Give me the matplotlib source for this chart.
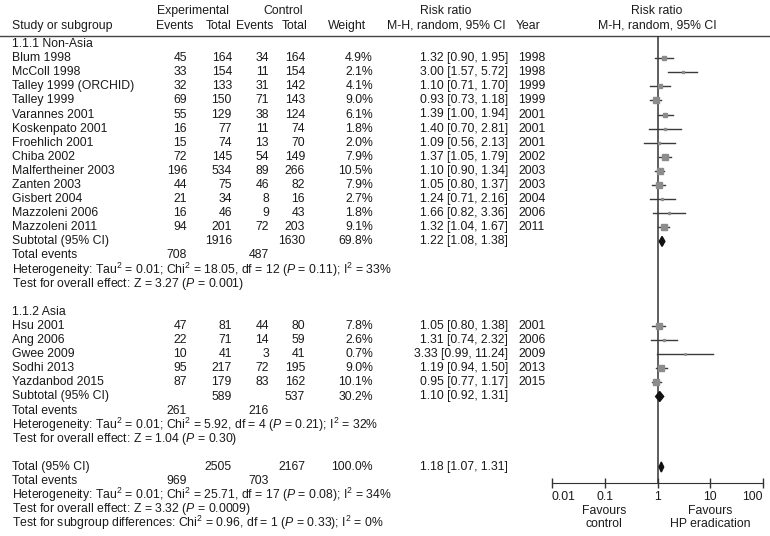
import numpy as np
import matplotlib
matplotlib.use('Agg')
import matplotlib.pyplot as plt

plt.rcParams['font.family'] = ['Liberation Sans', 'DejaVu Sans']
plt.rcParams['mathtext.fontset'] = 'custom'
plt.rcParams['mathtext.rm'] = 'Liberation Sans'
plt.rcParams['mathtext.it'] = 'Liberation Sans:italic'

# ---- data: 1.1.1 Non-Asia ----
g1_study = ['Blum 1998', 'McColl 1998', 'Talley 1999 (ORCHID)', 'Talley 1999', 'Varannes 2001',
            'Koskenpato 2001', 'Froehlich 2001', 'Chiba 2002', 'Malfertheiner 2003', 'Zanten 2003',
            'Gisbert 2004', 'Mazzoleni 2006', 'Mazzoleni 2011']
g1_exp_ev = [45, 33, 32, 69, 55, 16, 15, 72, 196, 44, 21, 16, 94]
g1_exp_tot = [164, 154, 133, 150, 129, 77, 74, 145, 534, 75, 34, 46, 201]
g1_ctl_ev = [34, 11, 31, 71, 38, 11, 13, 54, 89, 46, 8, 9, 72]
g1_ctl_tot = [164, 154, 142, 143, 124, 74, 70, 149, 266, 82, 16, 43, 203]
g1_weight = [4.9, 2.1, 4.1, 9.0, 6.1, 1.8, 2.0, 7.9, 10.5, 7.9, 2.7, 1.8, 9.1]
g1_rr = [1.32, 3.00, 1.10, 0.93, 1.39, 1.40, 1.09, 1.37, 1.10, 1.05, 1.24, 1.66, 1.32]
g1_lo = [0.90, 1.57, 0.71, 0.73, 1.00, 0.70, 0.56, 1.05, 0.90, 0.80, 0.71, 0.82, 1.04]
g1_hi = [1.95, 5.72, 1.70, 1.18, 1.94, 2.81, 2.13, 1.79, 1.34, 1.37, 2.16, 3.36, 1.67]
g1_year = [1998, 1998, 1999, 1999, 2001, 2001, 2001, 2002, 2003, 2003, 2004, 2006, 2011]

# ---- data: 1.1.2 Asia ----
g2_study = ['Hsu 2001', 'Ang 2006', 'Gwee 2009', 'Sodhi 2013', 'Yazdanbod 2015']
g2_exp_ev = [47, 22, 10, 95, 87]
g2_exp_tot = [81, 71, 41, 217, 179]
g2_ctl_ev = [44, 14, 3, 72, 83]
g2_ctl_tot = [80, 59, 41, 195, 162]
g2_weight = [7.8, 2.6, 0.7, 9.0, 10.1]
g2_rr = [1.05, 1.31, 3.33, 1.19, 0.95]
g2_lo = [0.80, 0.74, 0.99, 0.94, 0.77]
g2_hi = [1.38, 2.32, 11.24, 1.50, 1.17]
g2_year = [2001, 2006, 2009, 2013, 2015]

# subtotals / totals: [exp total, ctl total, weight, rr, lo, hi, exp events, ctl events]
sub1 = [1916, 1630, 69.8, 1.22, 1.08, 1.38, 708, 487]
sub2 = [589, 537, 30.2, 1.10, 0.92, 1.31, 261, 216]
overall = [2505, 2167, 100.0, 1.18, 1.07, 1.31, 969, 703]

het1 = 'Heterogeneity: Tau$^2$ = 0.01; Chi$^2$ = 18.05, df = 12 ($P$ = 0.11); I$^2$ = 33%'
eff1 = 'Test for overall effect: Z = 3.27 ($P$ = 0.001)'
het2 = 'Heterogeneity: Tau$^2$ = 0.01; Chi$^2$ = 5.92, df = 4 ($P$ = 0.21); I$^2$ = 32%'
eff2 = 'Test for overall effect: Z = 1.04 ($P$ = 0.30)'
het_all = 'Heterogeneity: Tau$^2$ = 0.01; Chi$^2$ = 25.71, df = 17 ($P$ = 0.08); I$^2$ = 34%'
eff_all = 'Test for overall effect: Z = 3.32 ($P$ = 0.0009)'
sub_diff = 'Test for subgroup differences: Chi$^2$ = 0.96, df = 1 ($P$ = 0.33); I$^2$ = 0%'

ticks = [0.01, 0.1, 1, 10, 100]
tick_labels = ['0.01', '0.1', '1', '10', '100']

W, H = 770, 536
fig = plt.figure(figsize=(W / 100, H / 100), dpi=100)
tx = fig.add_axes([0, 0, 1, 1])
tx.set_xlim(0, W)
tx.set_ylim(H, 0)
tx.axis('off')

FS = 8.8
TC = '#1a1a1a'
y0, step = 44, 14.1
row = lambda i: y0 + i * step

col_x = {'study': 12, 'ee': 187, 'et': 232, 'ce': 269, 'ct': 305, 'w': 373, 'rr': 508, 'yr': 518}


def txt(x, y, s, ha='left'):
    tx.text(x, y, s, ha=ha, va='center', fontsize=FS, color=TC)


# headers
txt(193, 11, 'Experimental', 'center')
txt(283, 11, 'Control', 'center')
txt(446, 11, 'Risk ratio', 'center')
txt(657, 11, 'Risk ratio', 'center')
txt(12, 26, 'Study or subgroup')
txt(175, 26, 'Events', 'center')
txt(219, 26, 'Total', 'center')
txt(255, 26, 'Events', 'center')
txt(295, 26, 'Total', 'center')
txt(347, 26, 'Weight', 'center')
txt(446, 26, 'M-H, random, 95% CI', 'center')
txt(528, 26, 'Year', 'center')
txt(657, 26, 'M-H, random, 95% CI', 'center')
tx.axhline(36, color='#444', lw=1)

# forest axes
fx = fig.add_axes([552 / W, (H - 483) / H, 211 / W, (483 - 36) / H])
fx.set_xscale('log')
fx.set_xlim(0.01, 100)
fx.set_ylim(483, 36)
for s in ['top', 'left', 'right']:
    fx.spines[s].set_visible(False)
fx.spines['bottom'].set_color('#333')
fx.set_yticks([])
fx.set_xticks(ticks)
fx.set_xticklabels(tick_labels)
fx.xaxis.set_minor_locator(matplotlib.ticker.NullLocator())
fx.tick_params(axis='x', direction='inout', length=7, width=1, color='#333',
               labelsize=FS, labelcolor=TC, pad=2)
lbls = fx.get_xticklabels()
lbls[0].set_ha('left')
lbls[-1].set_ha('right')
fx.patch.set_alpha(0)
fx.axvline(1, color='#333', lw=1.1, zorder=1)


def study_rows(start, names, ee, et, ce, ct, w, rr, lo, hi, yr):
    for k in range(len(names)):
        y = row(start + k)
        txt(col_x['study'], y, names[k])
        txt(col_x['ee'], y, str(ee[k]), 'right')
        txt(col_x['et'], y, str(et[k]), 'right')
        txt(col_x['ce'], y, str(ce[k]), 'right')
        txt(col_x['ct'], y, str(ct[k]), 'right')
        txt(col_x['w'], y, f'{w[k]:.1f}%', 'right')
        txt(col_x['rr'], y, f'{rr[k]:.2f} [{lo[k]:.2f}, {hi[k]:.2f}]', 'right')
        txt(col_x['yr'], y, str(yr[k]))
        fx.plot([lo[k], hi[k]], [y, y], color='#3a3a3a', lw=1, zorder=2)
        fx.plot(rr[k], y, marker='s', color='#8c8c8c', ms=1.3 * np.sqrt(w[k]),
                mec='#8c8c8c', zorder=3)


def summary_rows(start, label, s, het, eff):
    y = row(start)
    txt(col_x['study'], y, label)
    txt(col_x['et'], y, str(s[0]), 'right')
    txt(col_x['ct'], y, str(s[1]), 'right')
    txt(col_x['w'], y, f'{s[2]:.1f}%', 'right')
    txt(col_x['rr'], y, f'{s[3]:.2f} [{s[4]:.2f}, {s[5]:.2f}]', 'right')
    fx.fill([s[4], s[3], s[5], s[3]], [y, y - 5, y, y + 5], color='#111', zorder=4)
    y = row(start + 1)
    txt(col_x['study'], y, 'Total events')
    txt(col_x['ee'], y, str(s[6]), 'right')
    txt(col_x['ce'], y, str(s[7]), 'right')
    txt(col_x['study'], row(start + 2), het)
    txt(col_x['study'], row(start + 3), eff)


txt(col_x['study'], row(0), '1.1.1 Non-Asia')
study_rows(1, g1_study, g1_exp_ev, g1_exp_tot, g1_ctl_ev, g1_ctl_tot, g1_weight,
           g1_rr, g1_lo, g1_hi, g1_year)
summary_rows(14, 'Subtotal (95% CI)', sub1, het1, eff1)

txt(col_x['study'], row(19), '1.1.2 Asia')
study_rows(20, g2_study, g2_exp_ev, g2_exp_tot, g2_ctl_ev, g2_ctl_tot, g2_weight,
           g2_rr, g2_lo, g2_hi, g2_year)
summary_rows(25, 'Subtotal (95% CI)', sub2, het2, eff2)

summary_rows(30, 'Total (95% CI)', overall, het_all, eff_all)
txt(col_x['study'], row(34), sub_diff)

# favours labels
txt(604, 511, 'Favours', 'center')
txt(604, 524, 'control', 'center')
txt(710, 511, 'Favours', 'center')
txt(710, 524, 'HP eradication', 'center')

fig.savefig('out.png', dpi=100)
